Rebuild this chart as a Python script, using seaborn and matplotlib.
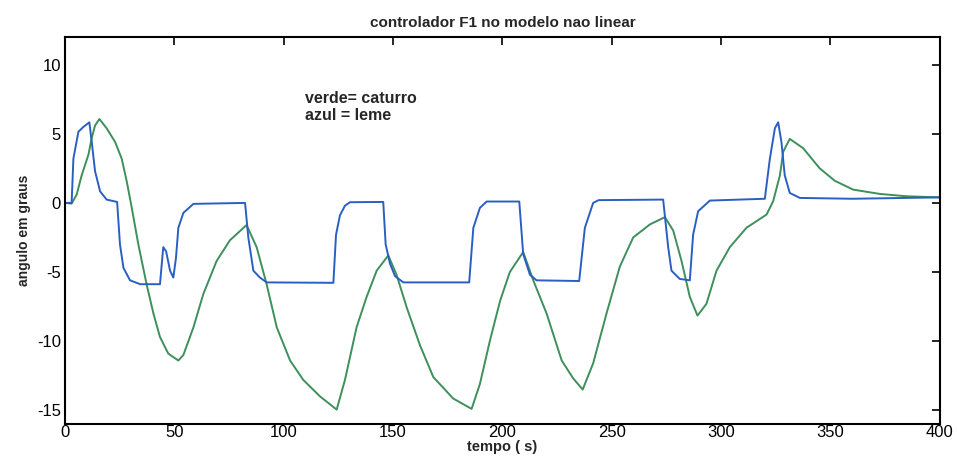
import numpy as np
import pandas as pd
import matplotlib
matplotlib.use('Agg')
import matplotlib.pyplot as plt
import seaborn as sns

# leme (rudder) - blue
t_leme = [0, 3.0, 3.8, 6.1, 8.4, 11.1, 12.2, 13.7, 16, 19, 23.8, 25.1, 26.7, 29.7, 34.3,
          43.4, 44.9, 46.2, 48, 49.5, 50.7, 51.8, 54.1, 58.7, 82.3, 83.8, 86.1, 89.1, 92.2,
          122.7, 123.9, 125.7, 128.0, 130.3, 145.5, 146.6, 148.6, 150.9, 154.7, 184.8,
          186.7, 189.7, 192.8, 207.7, 209.5, 212.6, 215.6, 235.1, 237.7, 241.5, 244,
          273.5, 275.8, 277.3, 281.1, 285.7, 287.2, 289.5, 294.9, 320, 322.3, 324.6,
          326.1, 327.6, 329.1, 331.4, 336, 360, 400]
y_leme = [0, 0, 3.2, 5.15, 5.5, 5.83, 4.4, 2.3, 0.84, 0.24, 0.07, -3.0, -4.7, -5.6, -5.88,
          -5.88, -3.2, -3.5, -4.9, -5.4, -4.0, -1.8, -0.72, -0.07, 0.0, -2.5, -4.9, -5.4, -5.75,
          -5.78, -2.3, -0.9, -0.2, 0.05, 0.07, -3.0, -4.4, -5.3, -5.75, -5.75,
          -1.8, -0.36, 0.1, 0.1, -3.7, -5.2, -5.6, -5.65, -1.8, 0.0, 0.2,
          0.24, -3.2, -4.9, -5.5, -5.6, -2.3, -0.6, 0.17, 0.3, 3.2, 5.4,
          5.83, 4.4, 2.0, 0.72, 0.36, 0.3, 0.4]

# caturro (pitch) - green
t_cat = [0, 3.0, 5.3, 7.6, 10.7, 12.2, 13.7, 15.7, 19.0, 22.9, 25.9, 28.2, 30.5, 33.5,
         37.3, 40.4, 43.4, 47.2, 51.8, 54.1, 58.7, 63.2, 69.3, 75.4, 83.0, 87.6, 92.2,
         96.8, 102.9, 108.9, 116.6, 124.2, 128, 133.3, 137.9, 142.5, 147.8, 151.6,
         156.2, 162.3, 168.4, 177.5, 185.9, 189.7, 194.3, 198.9, 203.4, 209.5, 214.1,
         220.2, 227.1, 232.4, 236.7, 241.5, 247.6, 253.7, 259.8, 267.4, 274.3, 278.1,
         281.9, 285.7, 289.2, 293.3, 297.9, 304, 311.6, 320.8, 323.8, 326.9, 328.4,
         331.4, 337.5, 345.1, 352, 360.4, 372.6, 384.8, 400]
y_cat = [0, -0.05, 0.6, 2.0, 3.5, 4.7, 5.6, 6.07, 5.4, 4.4, 3.2, 1.56, -0.36, -3.0,
         -5.9, -8.0, -9.7, -10.9, -11.4, -11.0, -9.0, -6.6, -4.2, -2.7, -1.6, -3.2, -5.9,
         -9.0, -11.4, -12.8, -14.0, -14.95, -12.8, -9.0, -6.8, -4.9, -3.8, -5.2,
         -7.55, -10.3, -12.6, -14.15, -14.9, -13.1, -9.95, -7.1, -5.0, -3.55, -5.6,
         -8.0, -11.4, -12.7, -13.5, -11.6, -8.0, -4.6, -2.5, -1.56, -1.03, -2.0,
         -4.2, -6.8, -8.15, -7.3, -4.9, -3.2, -1.8, -0.84, 0.12, 2.0, 3.7,
         4.63, 3.96, 2.5, 1.6, 0.96, 0.65, 0.48, 0.4]

sns.set_style('white')
plt.rcParams['font.family'] = ['Liberation Sans Narrow', 'Liberation Sans', 'DejaVu Sans']
plt.rcParams['axes.unicode_minus'] = False

fig = plt.figure(figsize=(9.57, 4.57), dpi=100)
ax = fig.add_axes([0.068, 0.072, 0.914, 0.847])

sns.lineplot(x=t_cat, y=y_cat, ax=ax, color='#3d8f5c', linewidth=1.4)
sns.lineplot(x=t_leme, y=y_leme, ax=ax, color='#2a5fc2', linewidth=1.4)

ax.set_xlim(0, 400)
ax.set_ylim(-16, 12)
ax.set_xticks(range(0, 401, 50))
ax.set_yticks([-15, -10, -5, 0, 5, 10])
ax.tick_params(direction='in', top=True, right=True, length=6, width=1.2,
               labelsize=12, colors='black', pad=3)
ax.tick_params(axis='x', pad=1)
for s in ax.spines.values():
    s.set_color('black')
    s.set_linewidth(1.5)

ax.set_title('controlador F1 no modelo nao linear', fontsize=11, fontweight='bold', pad=7)
ax.set_xlabel('tempo ( s)', fontsize=10.5, fontweight='bold', labelpad=0)
ax.set_ylabel('angulo em graus', fontsize=10, fontweight='bold', labelpad=4)

ax.text(109.7, 7.55, 'verde= caturro', fontsize=11.5, fontweight='bold', va='center')
ax.text(109.7, 6.3, 'azul = leme', fontsize=11.5, fontweight='bold', va='center')

fig.savefig('out.png', dpi=100)
